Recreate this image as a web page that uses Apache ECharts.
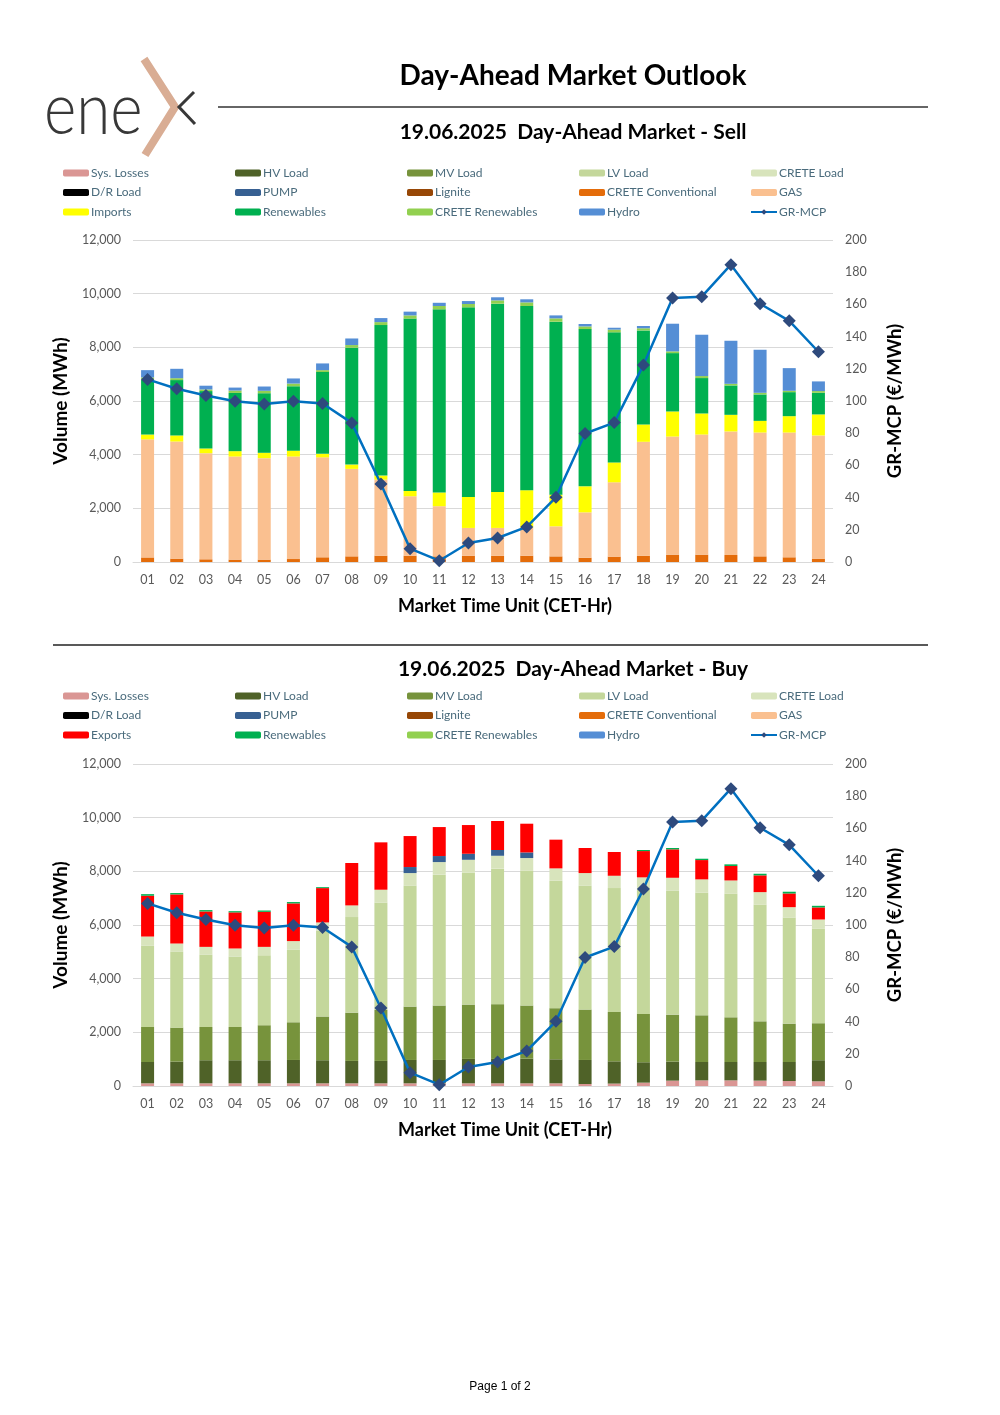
<!DOCTYPE html>
<html>
<head>
<meta charset="utf-8">
<script src="https://cdn.jsdelivr.net/npm/echarts@6/dist/echarts.min.js"></script>
<style>
html,body{margin:0;padding:0;background:#fff;}
#c{width:1000px;height:1415px;}
</style>
</head>
<body>
<div id="c"></div>
<script>
// ---------- DATA ----------
const hours = ['01','02','03','04','05','06','07','08','09','10','11','12','13','14','15','16','17','18','19','20','21','22','23','24'];
const volumeTicks = [0, 2000, 4000, 6000, 8000, 10000, 12000];
const priceTicks = [0, 20, 40, 60, 80, 100, 120, 140, 160, 180, 200];

const grMcp = [113.4,107.6,103.4,99.9,98.2,99.9,98.4,86.4,48.5,8.3,0.8,11.8,14.9,21.8,40.2,79.8,86.6,122.3,163.9,164.8,184.7,160.4,149.8,130.6];

// Sell side (MWh)
const sellCreteConventional = [170,125,100,90,90,110,175,210,235,235,210,235,235,235,210,160,200,235,275,275,260,210,175,125];
const sellLignite = [0,0,0,0,0,0,0,0,0,0,0,0,0,0,0,0,0,0,0,0,0,0,0,0];
const sellGas = [4400,4365,3955,3840,3780,3820,3725,3260,2835,2215,1870,1035,1035,1055,1120,1690,2770,4245,4400,4475,4605,4615,4650,4590];
const sellImports = [180,225,175,200,200,220,130,160,150,200,510,1155,1340,1385,1180,970,740,645,935,785,620,435,610,785];
const sellRenewables = [2050,2065,2140,2170,2220,2400,3050,4355,5610,6420,6825,7065,7015,6865,6445,5860,4850,3505,2175,1320,1095,985,895,805];
const sellCreteRenewables = [80,70,60,90,90,100,70,100,110,120,125,125,125,135,125,100,100,80,65,75,60,60,50,65];
const sellHydro = [270,350,140,110,160,190,250,245,150,140,120,110,115,115,110,90,70,85,1030,1540,1605,1605,845,360];

// Buy side (MWh)
const buySysLosses = [100,100,100,100,100,100,100,100,100,100,100,100,100,100,100,75,90,125,200,210,210,200,185,175];
const buyHvLoad = [795,810,860,860,860,870,860,835,835,870,870,910,910,920,895,895,830,760,710,685,685,695,710,785];
const buyMvLoad = [1305,1265,1240,1240,1305,1405,1630,1800,1900,1990,2030,2025,2040,1980,1905,1880,1840,1800,1750,1740,1665,1515,1430,1380];
const buyLvLoad = [3025,2825,2690,2625,2610,2700,3205,3560,4005,4500,4875,4925,5050,5020,4750,4610,4615,4630,4615,4580,4615,4355,3955,3530];
const buyCreteLoad = [345,310,295,300,310,325,300,435,475,475,470,470,480,475,460,475,460,460,485,485,485,460,385,335];
const buyDrLoad = [0,0,0,0,0,0,0,0,0,0,0,0,0,0,0,0,0,0,0,0,0,0,0,0];
const buyPump = [0,0,0,0,0,0,0,0,0,225,225,225,215,210,0,0,0,0,0,0,0,0,0,0];
const buyExports = [1520,1830,1320,1345,1305,1405,1280,1580,1765,1155,1080,1070,1080,1070,1070,935,885,980,1060,720,540,625,510,450];
const buyRenewables = [60,50,50,45,50,50,35,0,0,0,0,0,0,0,0,0,0,40,50,50,60,60,65,60];

// ---------- STYLE ----------
const C = {
  'Sys. Losses':'#DA9694','HV Load':'#4F6228','MV Load':'#77933C','LV Load':'#C4D79B','CRETE Load':'#D8E4BC',
  'D/R Load':'#000000','PUMP':'#376092','Lignite':'#974706','CRETE Conventional':'#E46C0A','GAS':'#FAC090',
  'Imports':'#FFFF00','Exports':'#FF0000','Renewables':'#00B050','CRETE Renewables':'#92D050','Hydro':'#558ED5'
};
const FONT = 'Lato';
const gridLeft = 133, gridW = 700, gridH = 322;
const grids = [{top:240},{top:764}];

const chart = echarts.init(document.getElementById('c'), null, {renderer:'canvas'});

function bar(name, data, gi){
  return {type:'bar', name, data, stack:'s'+gi, xAxisIndex:gi, yAxisIndex:gi*2,
    barWidth:13, itemStyle:{color:C[name]}, emphasis:{disabled:true}};
}
function line(gi){
  return {type:'line', name:'GR-MCP', data:grMcp, xAxisIndex:gi, yAxisIndex:gi*2+1,
    symbol:'diamond', symbolSize:13, lineStyle:{color:'#0070C0', width:2.5},
    itemStyle:{color:'#2E4A7D'}, emphasis:{disabled:true}, z:5};
}

const series = [
  bar('CRETE Conventional', sellCreteConventional, 0),
  bar('Lignite', sellLignite, 0),
  bar('GAS', sellGas, 0),
  bar('Imports', sellImports, 0),
  bar('Renewables', sellRenewables, 0),
  bar('CRETE Renewables', sellCreteRenewables, 0),
  bar('Hydro', sellHydro, 0),
  line(0),
  bar('Sys. Losses', buySysLosses, 1),
  bar('HV Load', buyHvLoad, 1),
  bar('MV Load', buyMvLoad, 1),
  bar('LV Load', buyLvLoad, 1),
  bar('CRETE Load', buyCreteLoad, 1),
  bar('D/R Load', buyDrLoad, 1),
  bar('PUMP', buyPump, 1),
  bar('Exports', buyExports, 1),
  bar('Renewables', buyRenewables, 1),
  line(1)
];

const axisLabel = {color:'#595959', fontSize:12.5, fontFamily:FONT};
const xAxes = [], yAxes = [];
grids.forEach((g, gi) => {
  xAxes.push({type:'category', gridIndex:gi, data:hours,
    axisLine:{show:true, lineStyle:{color:'#D9D9D9'}}, axisTick:{show:false},
    axisLabel:Object.assign({margin:11}, axisLabel),
    name:'Market Time Unit (CET-Hr)', nameLocation:'middle', nameGap:35,
    nameTextStyle:{color:'#000', fontSize:18, fontWeight:'bold', fontFamily:FONT, padding:[0,0,0,44]}});
  yAxes.push({type:'value', gridIndex:gi, min:volumeTicks[0], max:volumeTicks[volumeTicks.length-1], interval:2000,
    axisLine:{show:false}, axisTick:{show:false},
    axisLabel:Object.assign({margin:12, formatter:v=>v.toLocaleString('en-US')}, axisLabel),
    splitLine:{lineStyle:{color:'#D9D9D9', width:1}},
    name:'Volume (MWh)', nameLocation:'middle', nameRotate:90, nameGap:63,
    nameTextStyle:{color:'#000', fontSize:19, fontWeight:'bold', fontFamily:FONT}});
  yAxes.push({type:'value', gridIndex:gi, position:'right', min:priceTicks[0], max:priceTicks[priceTicks.length-1], interval:20,
    axisLine:{show:false}, axisTick:{show:false},
    axisLabel:Object.assign({margin:12}, axisLabel),
    splitLine:{show:false},
    name:'GR-MCP (€/MWh)', nameLocation:'middle', nameRotate:90, nameGap:53,
    nameTextStyle:{color:'#000', fontSize:18.5, fontWeight:'bold', fontFamily:FONT}});
});

const legendCols = [63,235,407,579,750];
function legends(top, thirdFirst){
  const cols = [
    ['Sys. Losses','D/R Load',thirdFirst],
    ['HV Load','PUMP','Renewables'],
    ['MV Load','Lignite','CRETE Renewables'],
    ['LV Load','CRETE Conventional','Hydro'],
    ['CRETE Load','GAS','GR-MCP']
  ];
  return cols.map((d,i)=>({orient:'vertical', left:legendCols[i], top:top, data:d, padding:0,
    itemWidth:26, itemHeight:7, itemGap:5.5, selectedMode:false,
    textStyle:{color:'#4A6B7C', fontSize:12, fontFamily:FONT, lineHeight:14, padding:[0,0,0,-3]}}));
}

const titleStyle = (txt, x, y, size) => ({type:'text', x:x, y:y,
  style:{text:txt, font:'bold '+size+'px '+FONT, fill:'#000', textAlign:'center', textVerticalAlign:'middle'}});

chart.setOption({
  animation:false,
  grid: grids.map(g=>({left:gridLeft, top:g.top, width:gridW, height:gridH, containLabel:false})),
  xAxis:xAxes, yAxis:yAxes,
  legend: legends(166,'Imports').concat(legends(689,'Exports')),
  series:series,
  graphic:[
    // logo
    {type:'text', x:44, y:75, scaleX:0.86, style:{text:'ene', font:'300 72px '+FONT, fill:'#383838'}},
    {type:'polyline', shape:{points:[[144,59],[175,107],[145,155]]}, style:{stroke:'#D9AD94', lineWidth:8, fill:null, lineJoin:'miter'}},
    {type:'polyline', shape:{points:[[194,92],[179,107],[195,124]]}, style:{stroke:'#383838', lineWidth:3, fill:null}},
    // titles
    titleStyle('Day-Ahead Market Outlook', 573, 76, 28),
    {type:'line', shape:{x1:218, y1:107, x2:928, y2:107}, style:{stroke:'#333', lineWidth:1.5}},
    titleStyle('19.06.2025  Day-Ahead Market - Sell', 573, 132, 21),
    {type:'line', shape:{x1:53, y1:645, x2:928, y2:645}, style:{stroke:'#595959', lineWidth:2}},
    titleStyle('19.06.2025  Day-Ahead Market - Buy', 573, 669, 21),
    {type:'text', x:500, y:1387, style:{text:'Page 1 of 2', font:'12px "Liberation Sans", Arial', fill:'#000', textAlign:'center', textVerticalAlign:'middle'}}
  ]
});
</script>
</body>
</html>
